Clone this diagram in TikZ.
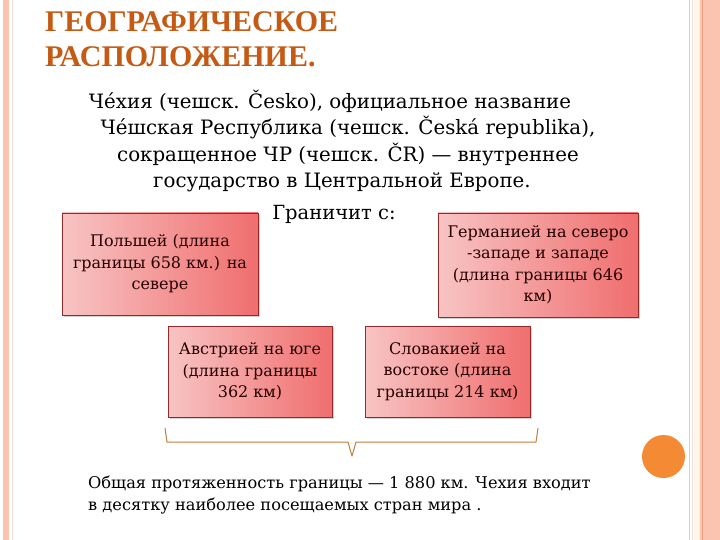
\documentclass[tikz,border=0pt]{standalone}
\usepackage{fontspec}
\setmainfont{DejaVu Serif}
\newfontfamily\titlefont{Liberation Serif}
\usetikzlibrary{shadows}
\definecolor{salmon}{RGB}{251,196,176}
\definecolor{salmondark}{RGB}{240,160,128}
\definecolor{thinline}{RGB}{232,200,184}
\definecolor{cream}{RGB}{255,246,234}
\definecolor{titlecol}{RGB}{197,90,20}
\definecolor{boxleft}{RGB}{248,196,196}
\definecolor{boxright}{RGB}{240,110,110}
\definecolor{boxedge}{RGB}{150,40,40}
\definecolor{bracecol}{RGB}{195,125,60}
\definecolor{dotcol}{RGB}{245,138,53}
\tikzset{
  redbox/.style={rectangle, draw=boxedge, line width=0.8pt, left color=boxleft, right color=boxright,
    drop shadow={opacity=0.35, shadow xshift=2pt, shadow yshift=-2pt},
    align=center, inner sep=2pt, font=\fontsize{16}{21.5}\selectfont, text=black!85!red},
  bodyline/.style={anchor=base, font=\fontsize{19.8}{24}\selectfont},
}
\begin{document}
\begin{tikzpicture}[x=1pt,y=-1pt]
\useasboundingbox (0,0) rectangle (720,540);
\fill[white] (0,0) rectangle (720,540);
% borders
\fill[salmon] (3,0) rectangle (8.5,540);
\fill[thinline!60] (12,0) rectangle (13.2,540);
\fill[thinline] (688.5,0) rectangle (690,540);
\fill[thinline!60] (691.5,0) rectangle (693,540);
\fill[cream] (694,0) rectangle (700,540);
\fill[salmon] (700,0) rectangle (720,540);
\fill[salmondark] (701.5,0) rectangle (703,540);
% title
\node[anchor=base west, text=titlecol, font=\titlefont\bfseries\fontsize{30}{34}\selectfont, inner sep=0] (t1) at (45,32) {ГЕОГРАФИЧЕСКОЕ};
\node[anchor=base west, text=titlecol, font=\titlefont\bfseries\fontsize{30}{34}\selectfont, inner sep=0] (t2) at (45,67) {РАСПОЛОЖЕНИЕ.};
% intro
\node[bodyline] (l1) at (330,109) {Че́хия (чешск. Česko), официальное название};
\node[bodyline] (l2) at (348,135) {Че́шская Республика (чешск. Česká republika),};
\node[bodyline] (l3) at (348,162) {сокращенное ЧР (чешск. ČR) — внутреннее};
\node[bodyline] (l4) at (342,188) {государство в Центральной Европе.};
\node[anchor=base, font=\fontsize{19.5}{22}\selectfont] (gr) at (334,219) {Граничит с:};
% boxes
\node[redbox, minimum width=196pt, minimum height=102pt] (pl) at (160,264)
  {Польшей (длина\\границы 658 км.) на\\севере};
\node[redbox, minimum width=200pt, minimum height=104pt] (de) at (538,265)
  {Германией на северо\\-западе и западе\\(длина границы 646\\км)};
\node[redbox, minimum width=164pt, minimum height=91pt] (at) at (250,371.5)
  {Австрией на юге\\(длина границы\\362 км)};
\node[redbox, minimum width=165pt, minimum height=91pt] (sk) at (447.5,371.5)
  {Словакией на\\востоке (длина\\границы 214 км)};
% brace
\coordinate (bl) at (165,428);
\coordinate (br) at (538,428);
\coordinate (bt) at (352,456);
\draw[bracecol, line width=1pt, line join=round] (bl) -- (167,442) -- (348,442) -- (bt) -- (356,442) -- (536,442) -- (br);
% bottom text
\node[anchor=base west, font=\fontsize{16.2}{20}\selectfont, inner sep=0] (b1) at (88,488) {Общая протяженность границы — 1 880 км. Чехия входит};
\node[anchor=base west, font=\fontsize{16.2}{20}\selectfont, inner sep=0] (b2) at (88,510) {в десятку наиболее посещаемых стран мира .};
% dot
\fill[dotcol] (663.5,456.5) circle (21.5);
\end{tikzpicture}
\end{document}
